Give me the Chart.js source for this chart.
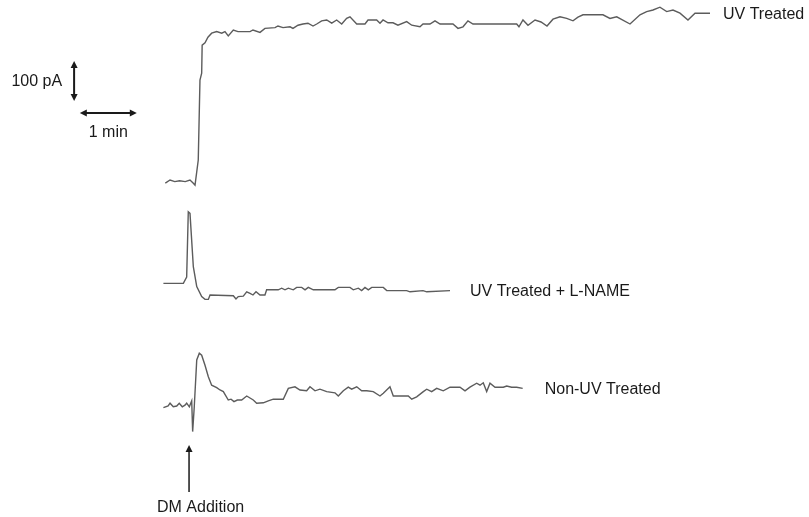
<!DOCTYPE html>
<html>
<head>
<meta charset="utf-8">
<script src="https://cdn.jsdelivr.net/npm/chart.js@4.4.0/dist/chart.umd.min.js"></script>
<style>
    html, body { margin: 0; padding: 0; background: #fff; }
    #wrap { width: 809px; height: 517px; }
</style>
</head>
<body>
<div id="wrap"><canvas id="chart" width="809" height="517"></canvas></div>
<script>
// trace names, in drawing order top to bottom
const traceNames = ['UV Treated', 'UV Treated + L-NAME', 'Non-UV Treated'];

// time (s, 0 = DM addition) and current (pA, relative to pre-addition level)
const uvTime = [-26, -21, -16, -11, -5, 0, 3.5, 5.3, 8.7, 10.5, 12.3, 12.8, 15.8, 18.9, 22.8, 28.1, 33.4, 36.8, 40.3, 45.6,
    50.5, 63.2, 66.3, 73.7, 78.9, 89.5, 92.6, 97.9, 105.3, 108.4, 113.7, 118.9, 124.2, 129.5, 133.4, 138.6, 143.9, 149.2, 154.4, 159.7,
    164.9, 168.4, 175.5, 184.2, 187.4, 196.5, 200, 203.2, 208.4, 213.7, 218.9, 228.1, 233.4, 242.1, 245.3, 252.6, 257.9, 263.2, 276.8, 282.1,
    287.4, 292.6, 297.9, 343.9, 346.3, 350.5, 355.8, 363.2, 369.5, 375.8, 382.1, 389.5, 396.5, 403.2, 408.4, 413.7, 434.7, 442.1, 449.2, 463.2,
    473.7, 480.7, 487.4, 494.7, 501.8, 508.4, 515.8, 524.2, 531.6, 547.4];
const uvCurrent = [-3, 5, 1, 3, 1, 5, -3, -8, 55, 255, 272, 342, 348, 362, 372, 376, 372, 376, 365, 380,
    376, 376, 380, 374, 384, 386, 390, 386, 388, 384, 392, 395, 397, 390, 395, 403, 405, 397, 405, 395,
    409, 413, 395, 395, 405, 405, 397, 405, 398, 398, 392, 401, 392, 388, 395, 395, 403, 395, 395, 384,
    388, 403, 395, 395, 388, 405, 392, 405, 400, 390, 407, 413, 409, 403, 412, 418, 418, 409, 413, 395,
    418, 426, 430, 437, 426, 430, 422, 405, 422, 422];

const lnameTime = [-28, -7, -3.5, -1.8, 0, 3.5, 7.1, 12.3, 15.8, 19.3, 21.1, 45.6, 48.4, 50.8, 56.1, 59.7,
    63.2, 66.3, 69.5, 73.7, 78.9, 80.7, 92.9, 96.5, 100, 103.5, 108.7, 112.3, 117.6, 121.1, 124.5, 129.8,
    152.6, 156.1, 168.4, 171.9, 177.2, 180.7, 184.2, 187.7, 191.3, 203.5, 207.1, 228.1, 231.6, 245.3, 249.2, 273.7];
const lnameCurrent = [0, 0, 16, 179, 175, 42, -8, -33, -40, -40, -29, -31, -39, -33, -32, -21,
    -25, -29, -21, -29, -29, -16, -16, -12, -16, -12, -16, -10, -10, -16, -10, -16,
    -16, -10, -10, -16, -12, -18, -10, -16, -10, -10, -18, -18, -21, -18, -21, -18];

const nonUvTime = [-28, -23, -21, -17.6, -14, -11.3, -8.1, -5.3, -3.5, -0.7, 1.8, 2.8, 4.5, 7.1, 9.8, 12.3,
    15.8, 19.3, 22.8, 28.1, 31.6, 35.1, 40.3, 43.2, 46.3, 49.8, 54.4, 59.7, 66.6, 70.2, 77.2, 82.4,
    87.7, 98.2, 103.5, 110.5, 115.8, 122.8, 126.3, 131.6, 136.8, 143.9, 152.6, 156.1, 161.4, 166.6, 170.2, 175.5,
    180.7, 186, 192.9, 200, 203.5, 210.5, 214, 229.8, 233.4, 238.6, 245.6, 249.2, 254.4, 259.7, 266.6, 273.7,
    284.2, 289.5, 294.7, 301.8, 305.3, 308.7, 312.3, 315.8, 321.1, 329.8, 333.4, 338.6, 343.9, 350.2];
const nonUvCurrent = [-4, 0, 7, -2, 0, 7, -2, 2, 7, -2, 13, -64, -2, 115, 132, 127,
    102, 73, 52, 46, 40, 36, 15, 17, 11, 15, 15, 25, 15, 7, 8, 13,
    17, 17, 44, 48, 40, 38, 48, 38, 42, 36, 33, 25, 38, 47, 42, 48,
    38, 38, 36, 25, 32, 48, 25, 25, 17, 23, 36, 42, 36, 44, 38, 47,
    47, 38, 47, 57, 52, 58, 36, 57, 47, 47, 50, 47, 47, 44];

// scale bar sizes
const scaleBarCurrent = 100; // pA
const scaleBarTime = 60;     // s

// layout: vertical offset of each trace (pA) and gap before its label (px)
const traceBaseline = [837.5, 584, 277.5];
const labelGap = [13, 20, 22];
const LINE_COLOR = '#5c5c5c';
const TEXT_COLOR = '#1a1a1a';
const FONT = '16px "Liberation Sans", Arial, sans-serif';

const traces = [
    { time: uvTime, current: uvCurrent },
    { time: lnameTime, current: lnameCurrent },
    { time: nonUvTime, current: nonUvCurrent }
];

// filled arrow head, tip at (x, y), pointing along (dx, dy)
function arrowHead(ctx, x, y, dx, dy) {
    const len = 7, half = 3.5;
    ctx.beginPath();
    ctx.moveTo(x, y);
    ctx.lineTo(x - dx * len - dy * half, y - dy * len + dx * half);
    ctx.lineTo(x - dx * len + dy * half, y - dy * len - dx * half);
    ctx.closePath();
    ctx.fill();
}

const annotations = {
    id: 'annotations',
    afterDatasetsDraw(chart) {
        const ctx = chart.ctx;
        const xs = chart.scales.x;
        const ys = chart.scales.y;
        ctx.save();
        ctx.font = FONT;
        ctx.fillStyle = TEXT_COLOR;
        ctx.strokeStyle = TEXT_COLOR;
        ctx.textBaseline = 'middle';

        // trace labels at the end of each trace
        traces.forEach((tr, i) => {
            const n = tr.time.length - 1;
            const px = xs.getPixelForValue(tr.time[n]) + labelGap[i];
            const py = ys.getPixelForValue(tr.current[n] + traceBaseline[i]) + 1;
            ctx.textAlign = 'left';
            ctx.fillText(traceNames[i], px, py);
        });

        // current scale bar
        ctx.lineWidth = 2;
        const vx = xs.getPixelForValue(-122);
        const vBottom = ys.getPixelForValue(1040);
        const vTop = ys.getPixelForValue(1040 + scaleBarCurrent);
        ctx.beginPath();
        ctx.moveTo(vx, vTop + 4);
        ctx.lineTo(vx, vBottom - 4);
        ctx.stroke();
        arrowHead(ctx, vx, vTop, 0, -1);
        arrowHead(ctx, vx, vBottom, 0, 1);
        ctx.textAlign = 'right';
        ctx.fillText('100 pA', vx - 12, (vTop + vBottom) / 2 + 1);

        // time scale bar
        const hy = ys.getPixelForValue(1010);
        const hLeft = xs.getPixelForValue(-116);
        const hRight = xs.getPixelForValue(-116 + scaleBarTime);
        ctx.beginPath();
        ctx.moveTo(hLeft + 4, hy);
        ctx.lineTo(hRight - 4, hy);
        ctx.stroke();
        arrowHead(ctx, hLeft, hy, -1, 0);
        arrowHead(ctx, hRight, hy, 1, 0);
        ctx.textAlign = 'center';
        ctx.fillText('1 min', (hLeft + hRight) / 2, hy + 20);

        // DM addition marker
        const ax = xs.getPixelForValue(-1);
        const aTop = ys.getPixelForValue(180);
        const aBottom = ys.getPixelForValue(62.5);
        ctx.lineWidth = 1.5;
        ctx.beginPath();
        ctx.moveTo(ax, aTop + 4);
        ctx.lineTo(ax, aBottom);
        ctx.stroke();
        arrowHead(ctx, ax, aTop, 0, -1);
        ctx.textAlign = 'left';
        ctx.fillText('DM Addition', ax - 32, aBottom + 16);

        ctx.restore();
    }
};

const ctx = document.getElementById('chart').getContext('2d');
new Chart(ctx, {
    type: 'scatter',
    data: {
        datasets: traces.map((tr, i) => ({
            label: traceNames[i],
            data: tr.time.map((t, k) => ({ x: t, y: tr.current[k] + traceBaseline[i] })),
            showLine: true,
            borderColor: LINE_COLOR,
            borderWidth: 1.4,
            pointRadius: 0,
            tension: 0,
            fill: false
        }))
    },
    options: {
        responsive: false,
        animation: false,
        devicePixelRatio: 1,
        layout: { padding: 0 },
        plugins: {
            legend: { display: false },
            tooltip: { enabled: false }
        },
        scales: {
            x: { type: 'linear', min: -200, max: 651.6, display: false },
            y: { type: 'linear', min: 0, max: 1292.5, display: false }
        }
    },
    plugins: [annotations]
});
</script>
</body>
</html>
